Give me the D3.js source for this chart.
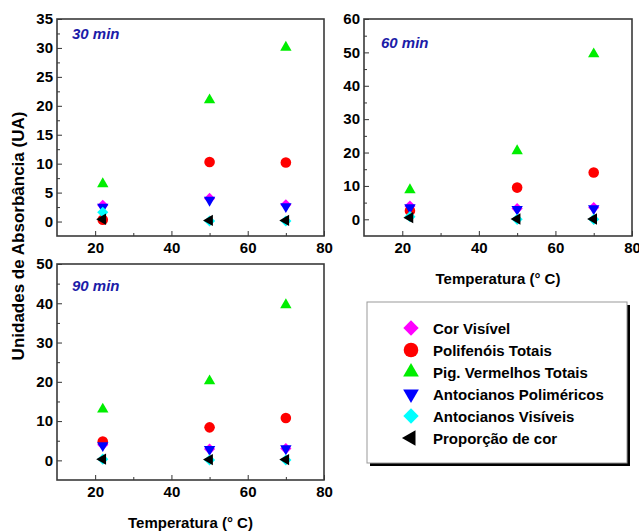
<!DOCTYPE html>
<html>
<head>
<meta charset="utf-8">
<script src="https://cdn.jsdelivr.net/npm/d3@7"></script>
<style>
  body { margin: 0; background: #fff; }
  text { font-family: "Liberation Sans", Arial, sans-serif; font-weight: bold; }
</style>
</head>
<body>
<script>
// temperatures (x) and series, in legend / drawing order
const temps = [22, 50, 70];
const seriesNames = ["Cor Visível", "Polifenóis Totais", "Pig. Vermelhos Totais",
  "Antocianos Poliméricos", "Antocianos Visíveis", "Proporção de cor"];

// values per panel, one row per series (same order as seriesNames)
const vals30 = [
  [2.8, 4.0, 2.9],
  [0.3, 10.3, 10.2],
  [6.5, 21.0, 30.1],
  [2.5, 3.7, 2.6],
  [1.6, 0.1, 0.1],
  [0.4, 0.2, 0.2]
];
const vals60 = [
  [4.0, 3.2, 3.5],
  [2.6, 9.5, 14.0],
  [8.8, 20.5, 49.5],
  [3.5, 3.0, 3.2],
  [0.8, 0.0, 0.0],
  [0.5, 0.1, 0.1]
];
const vals90 = [
  [4.0, 2.9, 3.0],
  [4.8, 8.4, 10.8],
  [13.0, 20.2, 39.6],
  [3.8, 2.8, 3.0],
  [0.3, 0.1, 0.1],
  [0.3, 0.2, 0.2]
];
const panelTitles = ["30 min", "60 min", "90 min"];
const yMax = [35, 60, 50];
const yMin = [-2.5, -5, -5];
const yStep = [5, 10, 10];

// styles
const colors = ["#ff00ff", "#ff0000", "#00ee00", "#0000ff", "#00ffff", "#000000"];
const shapes = ["diamond", "circle", "up", "down", "diamond", "left"];

const svg = d3.select("body").append("svg")
  .attr("width", 639)
  .attr("height", 531);

function symbolPath(shape, big) {
  const s = big ? 1.9 : 1;
  if (shape === "circle") return { d: d3.symbol(d3.symbolCircle, 88 * s)(), rot: 0 };
  if (shape === "diamond") return { d: d3.symbol(d3.symbolSquare, 62 * s)(), rot: 45 };
  const d = d3.symbol(d3.symbolTriangle, 56 * s)();
  const rot = shape === "up" ? 0 : shape === "down" ? 180 : -90;
  return { d: d, rot: rot };
}

const panels = [
  { x: 57, y: 19, w: 267, h: 217, vals: vals30, xlabel: false },
  { x: 364, y: 19, w: 268, h: 217, vals: vals60, xlabel: true },
  { x: 57, y: 264, w: 267, h: 216, vals: vals90, xlabel: true }
];

panels.forEach(function (p, i) {
  const g = svg.append("g").attr("transform", `translate(${p.x},${p.y})`);

  const x = d3.scaleLinear().domain([10, 80]).range([0, p.w]);
  const y = d3.scaleLinear().domain([yMin[i], yMax[i]]).range([p.h, 0]);

  // minor ticks
  g.append("g")
    .attr("transform", `translate(0,${p.h})`)
    .call(d3.axisBottom(x).tickValues([30, 50, 70]).tickSize(-3).tickFormat(""))
    .call(a => a.select(".domain").remove());
  g.append("g")
    .call(d3.axisLeft(y).tickValues(d3.range(yStep[i] / 2, yMax[i], yStep[i])).tickSize(-3).tickFormat(""))
    .call(a => a.select(".domain").remove());

  // major ticks + labels
  g.append("g")
    .attr("transform", `translate(0,${p.h})`)
    .call(d3.axisBottom(x).tickValues([20, 40, 60, 80]).tickSizeInner(-5).tickSizeOuter(0).tickPadding(6))
    .call(a => a.select(".domain").remove())
    .call(a => a.selectAll("text").attr("font-size", 15).attr("fill", "#000")
      .style("font-family", "Liberation Sans, Arial, sans-serif").style("font-weight", "bold"));
  g.append("g")
    .call(d3.axisLeft(y).tickValues(d3.range(0, yMax[i] + 0.001, yStep[i])).tickSizeInner(-5).tickSizeOuter(0).tickPadding(4))
    .call(a => a.select(".domain").remove())
    .call(a => a.selectAll("text").attr("font-size", 15).attr("fill", "#000")
      .style("font-family", "Liberation Sans, Arial, sans-serif").style("font-weight", "bold"));

  g.selectAll(".tick line").attr("stroke", "#333");

  // frame
  g.append("rect")
    .attr("width", p.w).attr("height", p.h)
    .attr("fill", "none").attr("stroke", "#3a3a3a").attr("stroke-width", 1.6);

  // title
  g.append("text")
    .attr("x", i === 1 ? 17 : 15)
    .attr("y", i === 1 ? 29 : i === 0 ? 20 : 27)
    .attr("font-size", 15)
    .attr("font-style", "italic")
    .attr("fill", "#1c1ca8")
    .text(panelTitles[i]);

  // points
  p.vals.forEach(function (row, s) {
    const sym = symbolPath(shapes[s], false);
    g.selectAll(null)
      .data(row.map((v, k) => ({ t: temps[k], v: v })))
      .join("path")
      .attr("d", sym.d)
      .attr("transform", d => `translate(${x(d.t)},${y(d.v)}) rotate(${sym.rot})`)
      .attr("fill", colors[s]);
  });

  if (p.xlabel) {
    g.append("text")
      .attr("x", p.w / 2)
      .attr("y", p.h + 48)
      .attr("text-anchor", "middle")
      .attr("font-size", 15)
      .text("Temperatura (° C)");
  }
});

// y axis label
svg.append("text")
  .attr("transform", "translate(24,236) rotate(-90)")
  .attr("text-anchor", "middle")
  .attr("font-size", 17)
  .text("Unidades de Absorbância (UA)");

// legend
const lg = svg.append("g").attr("transform", "translate(367,302)");
lg.append("rect").attr("x", 3).attr("y", 3).attr("width", 260).attr("height", 161).attr("fill", "#000");
lg.append("rect").attr("width", 260).attr("height", 161).attr("fill", "#fff").attr("stroke", "#999").attr("stroke-width", 1);

const ly = d3.scalePoint().domain(seriesNames).range([26, 136]);
seriesNames.forEach(function (name, s) {
  const sym = symbolPath(shapes[s], true);
  lg.append("path")
    .attr("d", sym.d)
    .attr("transform", `translate(44,${ly(name)}) rotate(${sym.rot})`)
    .attr("fill", colors[s]);
  lg.append("text")
    .attr("x", 66)
    .attr("y", ly(name) + 5.5)
    .attr("font-size", 15)
    .text(name);
});
</script>
</body>
</html>
